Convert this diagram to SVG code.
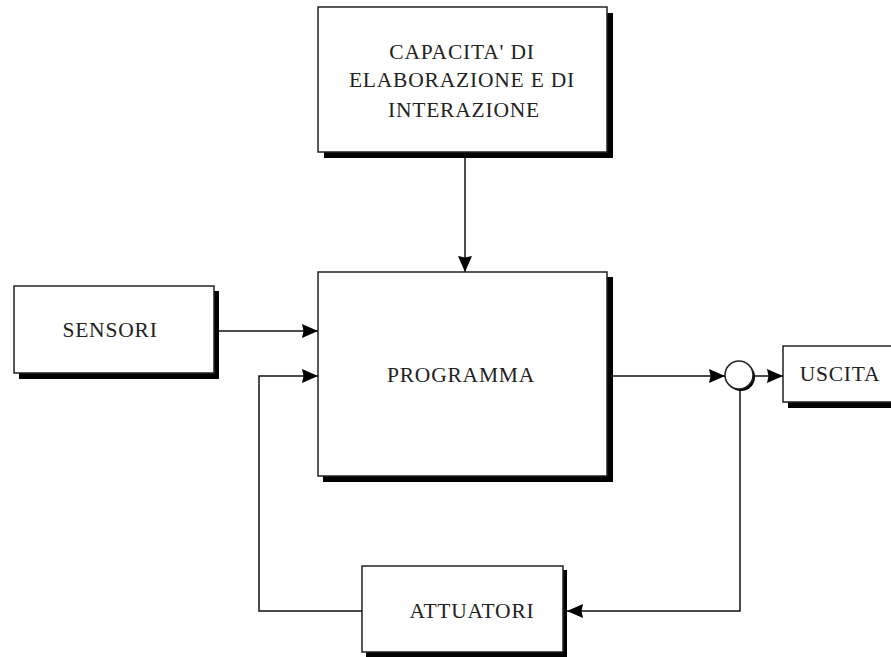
<svg xmlns="http://www.w3.org/2000/svg" width="891" height="657" viewBox="0 0 891 657">
<defs>
<style>
.box{fill:#fff;stroke:#222;stroke-width:1.5}
.sh{fill:#000}
.lbl{font-family:"Liberation Serif","Times New Roman",serif;font-size:21.5px;fill:#222;text-anchor:middle;letter-spacing:0.8px}
.ln{fill:none;stroke:#111;stroke-width:1.5}
</style>
<marker id="ah" viewBox="0 0 16 14" refX="16" refY="7" markerWidth="16" markerHeight="14" markerUnits="userSpaceOnUse" orient="auto">
<path d="M0,0 L16,7 L0,14 L1.5,7 Z" fill="#000"/>
</marker>
</defs>
<rect width="891" height="657" fill="#fff"/>
<g id="connectors">
<line class="ln" x1="465" y1="158" x2="465" y2="272" marker-end="url(#ah)"/>
<line class="ln" x1="219" y1="331" x2="318" y2="331" marker-end="url(#ah)"/>
<polyline class="ln" points="362,611 259,611 259,376 318,376" marker-end="url(#ah)"/>
<line class="ln" x1="612" y1="376" x2="725" y2="376" marker-end="url(#ah)"/>
<line class="ln" x1="754" y1="376" x2="783" y2="376" marker-end="url(#ah)"/>
<polyline class="ln" points="740,390 740,611 567,611" marker-end="url(#ah)"/>
</g>
<g id="capacita">
<rect class="sh" x="324" y="13" width="289" height="145"/>
<rect class="box" x="318" y="7" width="289" height="145"/>
<text class="lbl" x="462" y="59">CAPACITA' DI</text>
<text class="lbl" x="462" y="87">ELABORAZIONE E DI</text>
<text class="lbl" x="464" y="117">INTERAZIONE</text>
</g>
<g id="sensori">
<rect class="sh" x="19" y="291" width="200" height="88"/>
<rect class="box" x="14" y="286" width="200" height="87"/>
<text class="lbl" x="110" y="337">SENSORI</text>
</g>
<g id="programma">
<rect class="sh" x="323" y="277" width="290" height="205"/>
<rect class="box" x="318" y="272" width="289" height="204"/>
<text class="lbl" x="461" y="382">PROGRAMMA</text>
</g>
<g id="sommatore">
<circle cx="741" cy="377" r="14" fill="#000"/>
<circle cx="739" cy="375" r="14" fill="#fff" stroke="#222" stroke-width="1.5"/>
</g>
<g id="uscita">
<rect class="sh" x="788" y="351" width="110" height="57"/>
<rect class="box" x="783" y="346" width="110" height="56"/>
<text class="lbl" x="840" y="381">USCITA</text>
</g>
<g id="attuatori">
<rect class="sh" x="366" y="570" width="201" height="87"/>
<rect class="box" x="362" y="566" width="201" height="86"/>
<text class="lbl" x="472" y="618">ATTUATORI</text>
</g>
</svg>
